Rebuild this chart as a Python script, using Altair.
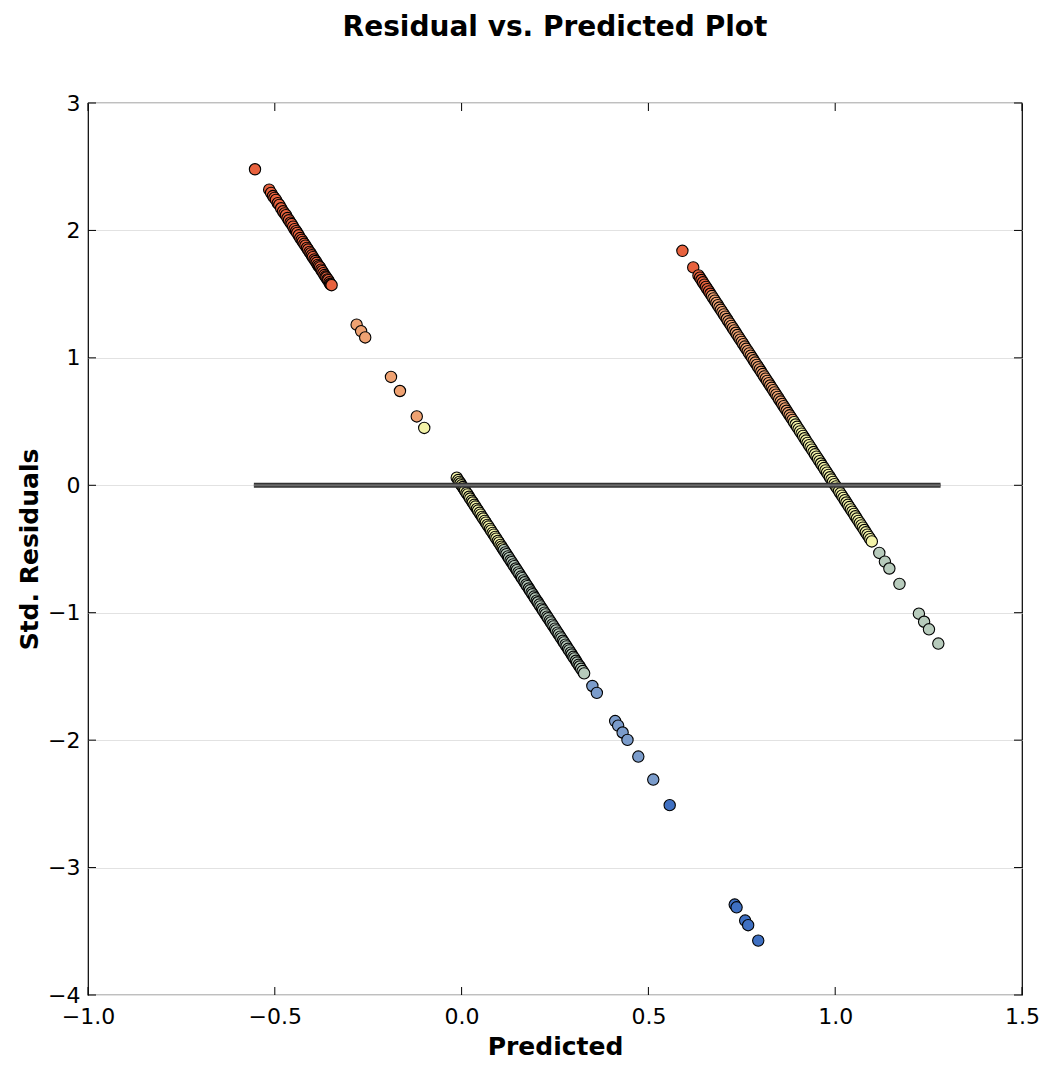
import altair as alt
import pandas as pd

# ---- data ----
pred = [
    # segment A (observed = 0), upper part
    -0.553, -0.515, -0.505, -0.497, -0.488, -0.478, -0.470, -0.462, -0.455, -0.447,
    -0.440, -0.432, -0.425, -0.418, -0.411, -0.404, -0.398, -0.391, -0.385, -0.379,
    -0.373, -0.367, -0.362, -0.357, -0.352, -0.348,
    -0.281, -0.269, -0.258, -0.189, -0.165, -0.120, -0.100,
    # segment A, lower part
    -0.013, -0.006, 0.000, 0.006, 0.013, 0.020, 0.027, 0.034, 0.041, 0.048,
    0.055, 0.062, 0.069, 0.076, 0.083, 0.090, 0.097, 0.104, 0.110, 0.117,
    0.124, 0.131, 0.138, 0.145, 0.152, 0.159, 0.166, 0.173, 0.180, 0.187,
    0.194, 0.201, 0.208, 0.215, 0.222, 0.229, 0.236, 0.243, 0.250, 0.257,
    0.264, 0.271, 0.278, 0.285, 0.292, 0.299, 0.306, 0.313, 0.320, 0.328,
    0.350, 0.362, 0.411, 0.419, 0.431, 0.444, 0.473, 0.513, 0.557,
    0.731, 0.736, 0.759, 0.767, 0.794,
    # segment B (observed = 1)
    0.591, 0.620,
    0.634, 0.642, 0.650, 0.658, 0.666, 0.674, 0.682, 0.690, 0.698, 0.706,
    0.714, 0.722, 0.730, 0.738, 0.746, 0.754, 0.762, 0.770, 0.778, 0.786,
    0.794, 0.802, 0.810, 0.818, 0.826, 0.834, 0.842, 0.850, 0.858, 0.866,
    0.874, 0.882, 0.890, 0.898, 0.906, 0.914, 0.922, 0.930, 0.938, 0.946,
    0.954, 0.962, 0.970, 0.978, 0.986, 0.994, 1.002, 1.010, 1.018, 1.026,
    1.034, 1.042, 1.050, 1.058, 1.066, 1.074, 1.082, 1.090, 1.098,
    1.118, 1.133, 1.145, 1.172, 1.224, 1.238, 1.251, 1.276,
]

resid = [
    2.48, 2.32, 2.27, 2.24, 2.20, 2.15, 2.12, 2.08, 2.05, 2.01,
    1.98, 1.94, 1.91, 1.88, 1.85, 1.82, 1.79, 1.76, 1.73, 1.71,
    1.68, 1.65, 1.63, 1.61, 1.58, 1.57,
    1.26, 1.21, 1.16, 0.85, 0.74, 0.54, 0.45,
    0.06, 0.027, 0.0, -0.027, -0.059, -0.09, -0.122, -0.153, -0.185, -0.216,
    -0.248, -0.279, -0.311, -0.342, -0.374, -0.405, -0.437, -0.468, -0.495, -0.527,
    -0.558, -0.59, -0.621, -0.653, -0.684, -0.716, -0.747, -0.779, -0.81, -0.842,
    -0.873, -0.905, -0.936, -0.968, -0.999, -1.031, -1.062, -1.094, -1.125, -1.157,
    -1.188, -1.22, -1.251, -1.283, -1.314, -1.346, -1.377, -1.409, -1.44, -1.476,
    -1.575, -1.629, -1.85, -1.886, -1.94, -1.998, -2.129, -2.309, -2.51,
    -3.29, -3.312, -3.416, -3.452, -3.573,
    1.84, 1.71,
    1.647, 1.611, 1.575, 1.539, 1.503, 1.467, 1.431, 1.395, 1.359, 1.323,
    1.287, 1.251, 1.215, 1.179, 1.143, 1.107, 1.071, 1.035, 0.999, 0.963,
    0.927, 0.891, 0.855, 0.819, 0.783, 0.747, 0.711, 0.675, 0.639, 0.603,
    0.567, 0.531, 0.495, 0.459, 0.423, 0.387, 0.351, 0.315, 0.279, 0.243,
    0.207, 0.171, 0.135, 0.099, 0.063, 0.027, -0.009, -0.045, -0.081, -0.117,
    -0.153, -0.189, -0.225, -0.261, -0.297, -0.333, -0.369, -0.405, -0.441,
    -0.531, -0.599, -0.653, -0.774, -1.008, -1.071, -1.13, -1.242,
]

# further points inside the dense (overlapping) stretches
pred_dense = [
    -0.510, -0.501, -0.492, -0.483, -0.474, -0.466, -0.458, -0.451, -0.443, -0.436,
    -0.428, -0.421, -0.414, -0.407, -0.401, -0.394, -0.388, -0.382, -0.376, -0.370,
    -0.364, -0.359, -0.354, -0.350,
    -0.009, -0.003, 0.003, 0.009, 0.016, 0.023, 0.030, 0.037, 0.044, 0.051,
    0.058, 0.065, 0.072, 0.079, 0.086, 0.093, 0.100, 0.107, 0.113, 0.120,
    0.127, 0.134, 0.141, 0.148, 0.155, 0.162, 0.169, 0.176, 0.183, 0.190,
    0.197, 0.204, 0.211, 0.218, 0.225, 0.232, 0.239, 0.246, 0.253, 0.260,
    0.267, 0.274, 0.281, 0.288, 0.295, 0.302, 0.309, 0.316, 0.324,
    0.638, 0.646, 0.654, 0.662, 0.670, 0.678, 0.686, 0.694, 0.702, 0.710,
    0.718, 0.726, 0.734, 0.742, 0.750, 0.758, 0.766, 0.774, 0.782, 0.790,
    0.798, 0.806, 0.814, 0.822, 0.830, 0.838, 0.846, 0.854, 0.862, 0.870,
    0.878, 0.886, 0.894, 0.902, 0.910, 0.918, 0.926, 0.934, 0.942, 0.950,
    0.958, 0.966, 0.974, 0.982, 0.990, 0.998, 1.006, 1.014, 1.022, 1.030,
    1.038, 1.046, 1.054, 1.062, 1.070, 1.078, 1.086, 1.094,
]
resid_dense = [
    2.295, 2.255, 2.214, 2.174, 2.133, 2.097, 2.061, 2.03, 1.994, 1.962,
    1.926, 1.895, 1.863, 1.832, 1.805, 1.773, 1.746, 1.719, 1.692, 1.665,
    1.638, 1.616, 1.593, 1.575,
    0.041, 0.014, -0.014, -0.041, -0.072, -0.104, -0.135, -0.167, -0.198, -0.23,
    -0.261, -0.293, -0.324, -0.356, -0.387, -0.419, -0.45, -0.482, -0.509, -0.54,
    -0.572, -0.603, -0.635, -0.666, -0.698, -0.729, -0.761, -0.792, -0.824, -0.855,
    -0.887, -0.918, -0.95, -0.981, -1.013, -1.044, -1.076, -1.107, -1.139, -1.17,
    -1.202, -1.233, -1.265, -1.296, -1.328, -1.359, -1.391, -1.422, -1.458,
    1.629, 1.593, 1.557, 1.521, 1.485, 1.449, 1.413, 1.377, 1.341, 1.305,
    1.269, 1.233, 1.197, 1.161, 1.125, 1.089, 1.053, 1.017, 0.981, 0.945,
    0.909, 0.873, 0.837, 0.801, 0.765, 0.729, 0.693, 0.657, 0.621, 0.585,
    0.549, 0.513, 0.477, 0.441, 0.405, 0.369, 0.333, 0.297, 0.261, 0.225,
    0.189, 0.153, 0.117, 0.081, 0.045, 0.009, -0.027, -0.063, -0.099, -0.135,
    -0.171, -0.207, -0.243, -0.279, -0.315, -0.351, -0.387, -0.423,
]

# zero reference line
hline_start = [-0.556]
hline_end = [1.282]
hline_level = [0.0]

# axis ticks
x_ticks = [-1.0, -0.5, 0.0, 0.5, 1.0, 1.5]
y_ticks = [-4, -3, -2, -1, 0, 1, 2, 3]

# colour bins (residual thresholds) and colours
bin_edges = [-2.5, -1.5, -0.5, 0.5, 1.5]
bin_colors = ["#3f70c2", "#7b9ccb", "#b7cbbc", "#f3f3a8", "#efa272", "#e8623e"]

df = pd.DataFrame({"pred": pred + pred_dense, "resid": resid + resid_dense})
df = df.sort_values("pred").reset_index(drop=True)
hl = pd.DataFrame({"x1": hline_start, "x2": hline_end, "y": hline_level})
xt = pd.DataFrame({"v": x_ticks})
yt = pd.DataFrame({"v": y_ticks})

W, H = 934, 892
TL = 8
FONT = "DejaVu Sans"

xs = alt.Scale(domain=[-1.0, 1.5], nice=False, zero=False)
ys = alt.Scale(domain=[-4, 3], nice=False, zero=False)

points = alt.Chart(df).mark_circle(size=128, stroke="black", strokeWidth=1.1, opacity=1).encode(
    x=alt.X("pred:Q", scale=xs, axis=alt.Axis(
        title="Predicted", values=x_ticks, format=".1f", grid=False, ticks=False,
        domain=False, labelFlush=False, labelFontSize=22, labelPadding=11,
        titleFontSize=25, titleFontWeight="bold", titlePadding=7)),
    y=alt.Y("resid:Q", scale=ys, axis=alt.Axis(
        title="Std. Residuals", values=y_ticks, format="d", grid=True,
        gridColor="#e2e2e2", gridWidth=1, ticks=False, domain=False,
        labelFlush=False, labelFontSize=22, labelPadding=8, titleFontSize=25,
        titleFontWeight="bold", titlePadding=5)),
    color=alt.Color("resid:Q", scale=alt.Scale(type="threshold", domain=bin_edges,
                                               range=bin_colors), legend=None),
)

line_outer = alt.Chart(hl).mark_rule(color="#333333", strokeWidth=5).encode(
    x=alt.X("x1:Q", scale=xs), x2="x2:Q", y=alt.Y("y:Q", scale=ys))
line_inner = alt.Chart(hl).mark_rule(color="#6a6a6a", strokeWidth=2).encode(
    x=alt.X("x1:Q", scale=xs), x2="x2:Q", y=alt.Y("y:Q", scale=ys))

tick_bottom = alt.Chart(xt).mark_rule(color="black", strokeWidth=1).encode(
    x=alt.X("v:Q", scale=xs), y=alt.value(H), y2=alt.value(H - TL))
tick_top = alt.Chart(xt).mark_rule(color="black", strokeWidth=1).encode(
    x=alt.X("v:Q", scale=xs), y=alt.value(0), y2=alt.value(TL))
tick_left = alt.Chart(yt).mark_rule(color="black", strokeWidth=1).encode(
    y=alt.Y("v:Q", scale=ys), x=alt.value(0), x2=alt.value(TL))
tick_right = alt.Chart(yt).mark_rule(color="black", strokeWidth=1).encode(
    y=alt.Y("v:Q", scale=ys), x=alt.value(W), x2=alt.value(W - TL))

chart = alt.layer(
    points, line_outer, line_inner, tick_bottom, tick_top, tick_left, tick_right
).properties(
    width=W, height=H,
    title=alt.Title("Residual vs. Predicted Plot", fontSize=28, font=FONT,
                    fontWeight="bold", color="black", anchor="middle", offset=50),
    autosize=alt.AutoSizeParams(type="none"),
    padding={"left": 80, "top": 95, "right": 18, "bottom": 65},
).configure_view(
    stroke="black", strokeWidth=1.2
).configure_axis(
    labelFont=FONT, titleFont=FONT, labelColor="black", titleColor="black"
)

chart.save("out.html", embed_options={"renderer": "svg", "actions": False})
